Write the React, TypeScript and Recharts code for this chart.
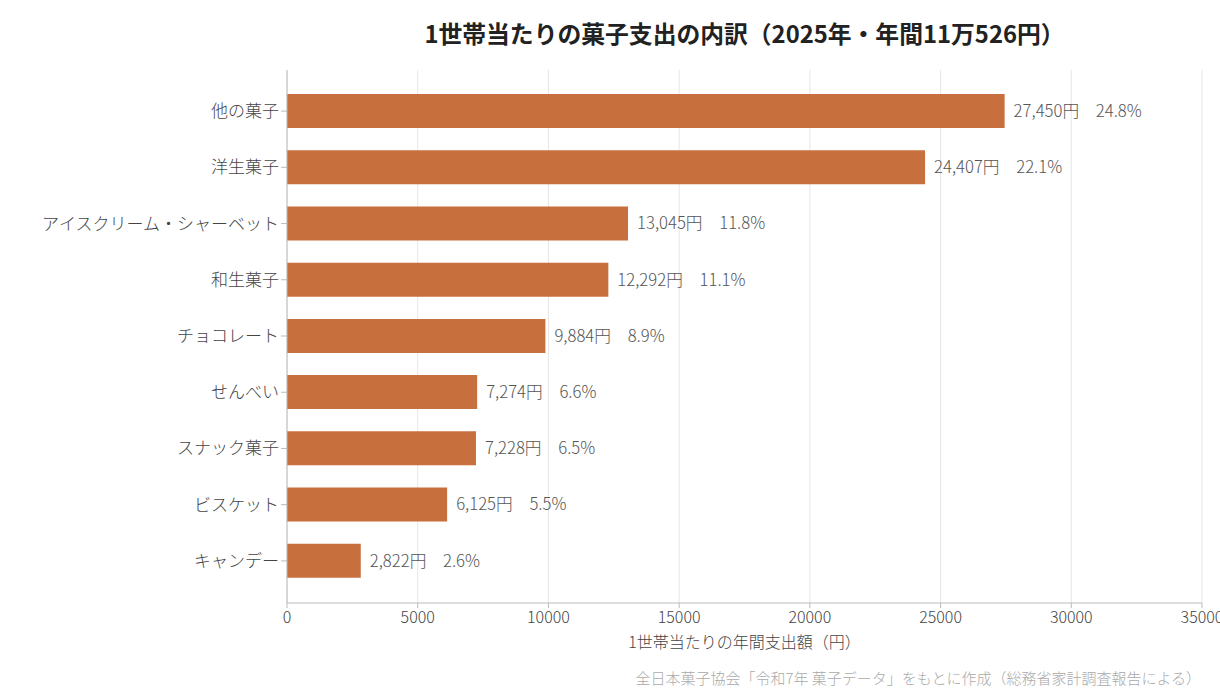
import React from 'react';
import { BarChart, Bar, XAxis, YAxis, CartesianGrid, LabelList } from 'recharts';

const categories = [
  '他の菓子',
  '洋生菓子',
  'アイスクリーム・シャーベット',
  '和生菓子',
  'チョコレート',
  'せんべい',
  'スナック菓子',
  'ビスケット',
  'キャンデー',
];
const amounts = [27450, 24407, 13045, 12292, 9884, 7274, 7228, 6125, 2822];
const shares = [24.8, 22.1, 11.8, 11.1, 8.9, 6.6, 6.5, 5.5, 2.6];
const xTicks = [0, 5000, 10000, 15000, 20000, 25000, 30000, 35000];

const data = categories.map((name, i) => ({
  name,
  amount: amounts[i],
  label: `${amounts[i].toLocaleString('en-US')}円　${shares[i].toFixed(1)}%`,
}));

const FONT = '"Noto Sans CJK JP", "Noto Sans", sans-serif';

export default function App() {
  return (
    <div style={{ position: 'absolute', left: 0, top: 0, width: 1220, height: 700, fontFamily: FONT, background: '#fff' }}>
      <div
        style={{
          position: 'absolute',
          top: 15,
          left: 287,
          width: 915,
          textAlign: 'center',
          fontSize: 23.8,
          fontWeight: 700,
          color: '#222',
          whiteSpace: 'nowrap',
        }}
      >
        1世帯当たりの菓子支出の内訳（2025年・年間11万526円）
      </div>
      <BarChart
        width={1220}
        height={700}
        data={data}
        layout="vertical"
        margin={{ top: 70, right: 18, bottom: 67, left: 0 }}
      >
        <CartesianGrid horizontal={false} stroke="#e6e6e6" />
        <XAxis
          type="number"
          domain={[0, 35000]}
          ticks={xTicks}
          interval={0}
          height={30}
          stroke="#bbbbbb"
          tickSize={5}
          tickMargin={4}
          tick={{ fill: '#444', fontSize: 16, fontWeight: 300, fontFamily: FONT }}
          label={{ value: '1世帯当たりの年間支出額（円）', position: 'insideBottom', offset: -15, fill: '#444', fontSize: 16, fontWeight: 300, fontFamily: FONT }}
        />
        <YAxis
          type="category"
          dataKey="name"
          width={287}
          stroke="#bbbbbb"
          tickSize={6}
          interval={0}
          padding={{ top: 13, bottom: 14 }}
          tick={{ fill: '#444', fontSize: 17, fontWeight: 300, fontFamily: FONT }}
        />
        <Bar dataKey="amount" fill="#c7703d" barSize={34} isAnimationActive={false}>
          <LabelList dataKey="label" position="right" offset={9} fill="#555" fontSize={16.7} fontWeight={300} fontFamily={FONT} />
        </Bar>
      </BarChart>
      <div
        style={{
          position: 'absolute',
          top: 667,
          right: 19,
          fontSize: 15,
          fontWeight: 300,
          color: '#aaa',
          whiteSpace: 'nowrap',
        }}
      >
        全日本菓子協会「令和7年 菓子データ」をもとに作成（総務省家計調査報告による）
      </div>
    </div>
  );
}
